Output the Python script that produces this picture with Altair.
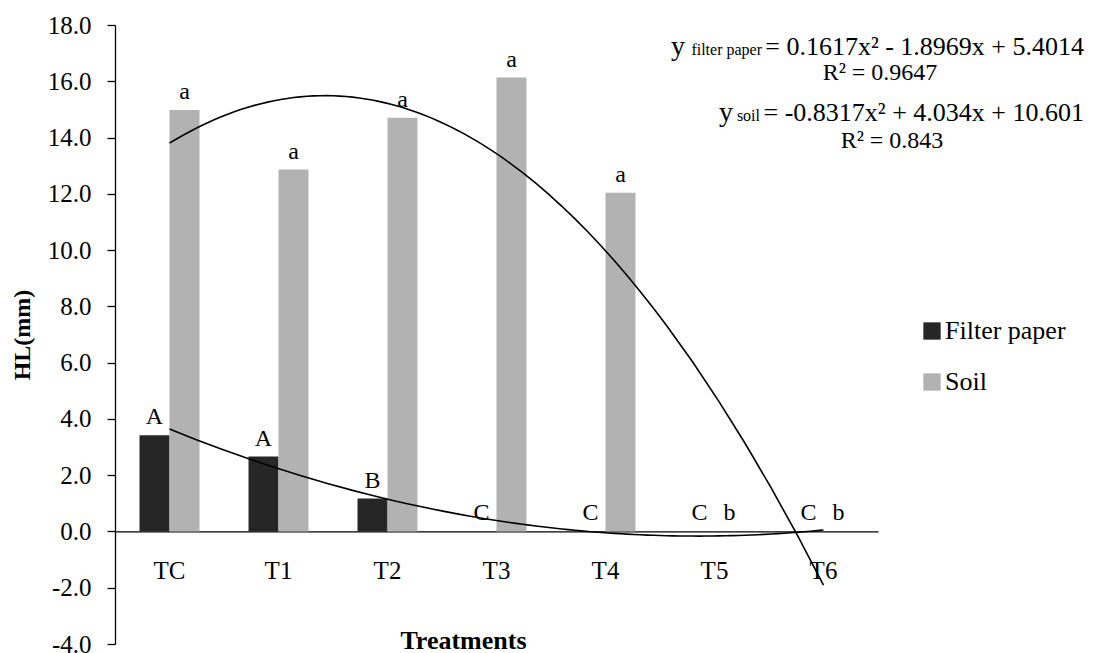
import altair as alt
import pandas as pd

# ---------------- data ----------------
treatments = ["TC", "T1", "T2", "T3", "T4", "T5", "T6"]
treatment_index = [1, 2, 3, 4, 5, 6, 7]
filter_paper = [3.42, 2.66, 1.17, 0.0, 0.0, 0.0, 0.0]
soil = [14.98, 12.86, 14.70, 16.13, 12.04, 0.0, 0.0]
filter_letters = ["A", "A", "B", "C", "C", "C", "C"]
soil_letters = ["a", "a", "a", "a", "a", "b", "b"]
series_names = ["Filter paper", "Soil"]
series_colors = ["#262626", "#b2b2b2"]
y_ticks = [-4, -2, 0, 2, 4, 6, 8, 10, 12, 14, 16, 18]
eq_y = ["y", "y"]
eq_sub = ["filter paper", "soil"]
eq_main = ["= 0.1617x² - 1.8969x + 5.4014", "= -0.8317x² + 4.034x + 10.601"]
eq_r2 = ["R² = 0.9647", "R² = 0.843"]

rows = []
for i, t in enumerate(treatments):
    rows.append(dict(Treatment=t, idx=treatment_index[i], Series=series_names[0],
                     value=filter_paper[i], letter=filter_letters[i]))
    rows.append(dict(Treatment=t, idx=treatment_index[i], Series=series_names[1],
                     value=soil[i], letter=soil_letters[i]))
df = pd.DataFrame(rows)

FONT = "Liberation Serif"
W, H = 763, 619
Y0 = H * 18 / 22  # pixel position of zero from top of plot

y_enc = alt.Y(
    "value:Q",
    title="HL(mm)",
    scale=alt.Scale(domain=[-4, 18], nice=False, zero=False),
    axis=alt.Axis(values=y_ticks, grid=False, tickSize=8,
                  labelExpr="datum.value < 0 ? '-' + format(-datum.value, '.1f') : format(datum.value, '.1f')",
                  labelPadding=16, labelFontSize=25, titleFontSize=24,
                  titleFontWeight="bold", titleX=-93, titleY=H / 2,
                  titleAngle=270, titleAlign="center", titleBaseline="middle"),
)

x_scale = alt.Scale(paddingInner=0, paddingOuter=0)
x_enc = alt.X(
    "Treatment:N", sort=treatments, title="Treatments",
    scale=x_scale,
    axis=alt.Axis(labelAngle=0, ticks=False, tickSize=0, offset=-(H - Y0),
                  labelPadding=27, labelFontSize=25, titleFontSize=26,
                  titleFontWeight="bold", titleX=348, titleY=117,
                  titleBaseline="alphabetic", titleAlign="center"),
)
x_enc_noaxis = alt.X("Treatment:N", sort=treatments, scale=x_scale, axis=None)

xoff_enc = alt.XOffset("Series:N", sort=series_names,
                       scale=alt.Scale(paddingInner=0, paddingOuter=0.817))

bars = alt.Chart(df).mark_bar().encode(
    x=x_enc,
    xOffset=xoff_enc,
    y=y_enc,
    color=alt.Color(
        "Series:N",
        scale=alt.Scale(domain=series_names, range=series_colors),
        legend=alt.Legend(title=None, orient="none", legendX=804, legendY=293,
                          symbolType="square", symbolSize=300, labelFontSize=26,
                          labelFont=FONT, labelColor="black", rowPadding=25,
                          labelOffset=0, padding=0, symbolStrokeWidth=0),
    ),
)

letters = alt.Chart(df).mark_text(
    dy=-11, baseline="alphabetic", fontSize=24, font=FONT, color="black"
).encode(x=x_enc_noaxis, xOffset=xoff_enc, y=y_enc, text="letter:N")

trend = alt.Chart(df).transform_regression(
    "idx", "value", method="poly", order=2, groupby=["Series"]
).mark_line(color="black", strokeWidth=1.6).encode(
    x=alt.X("idx:Q", scale=alt.Scale(domain=[0.5, 7.5], nice=False, zero=False),
            axis=None),
    y=y_enc,
    detail="Series:N",
)

# ---------------- equation annotations ----------------
ann = []
eq_right = [969, 969]
eq_base = [30, 96]
r2_center = [765, 777]
r2_base = [55, 123]
sub_right = [647, 645]
y_right = [570, 618]
for i in range(2):
    ann.append(alt.Chart(pd.DataFrame({"t": [eq_main[i]]})).mark_text(
        align="right", baseline="alphabetic", fontSize=26, font=FONT, color="black"
    ).encode(text="t:N", x=alt.value(eq_right[i]), y=alt.value(eq_base[i])))
    ann.append(alt.Chart(pd.DataFrame({"t": [eq_sub[i]]})).mark_text(
        align="right", baseline="alphabetic", fontSize=16, font=FONT, color="black"
    ).encode(text="t:N", x=alt.value(sub_right[i]), y=alt.value(eq_base[i])))
    ann.append(alt.Chart(pd.DataFrame({"t": [eq_y[i]]})).mark_text(
        align="right", baseline="alphabetic", fontSize=28, font=FONT, color="black"
    ).encode(text="t:N", x=alt.value(y_right[i]), y=alt.value(eq_base[i])))
    ann.append(alt.Chart(pd.DataFrame({"t": [eq_r2[i]]})).mark_text(
        align="center", baseline="alphabetic", fontSize=24, font=FONT, color="black"
    ).encode(text="t:N", x=alt.value(r2_center[i]), y=alt.value(r2_base[i])))

chart = alt.layer(bars, letters, trend, *ann).resolve_scale(
    x="independent"
).properties(
    width=W, height=H,
    autosize=alt.AutoSizeParams(type="none"),
    padding={"left": 107, "top": 17, "right": 208, "bottom": 9},
).configure_view(stroke=None).configure_axis(
    domainColor="black", tickColor="black", labelColor="black", titleColor="black",
    labelFont=FONT, titleFont=FONT, domainWidth=1.3, tickWidth=1.3,
)

chart.save("out.html", embed_options={"renderer": "svg", "actions": False})
